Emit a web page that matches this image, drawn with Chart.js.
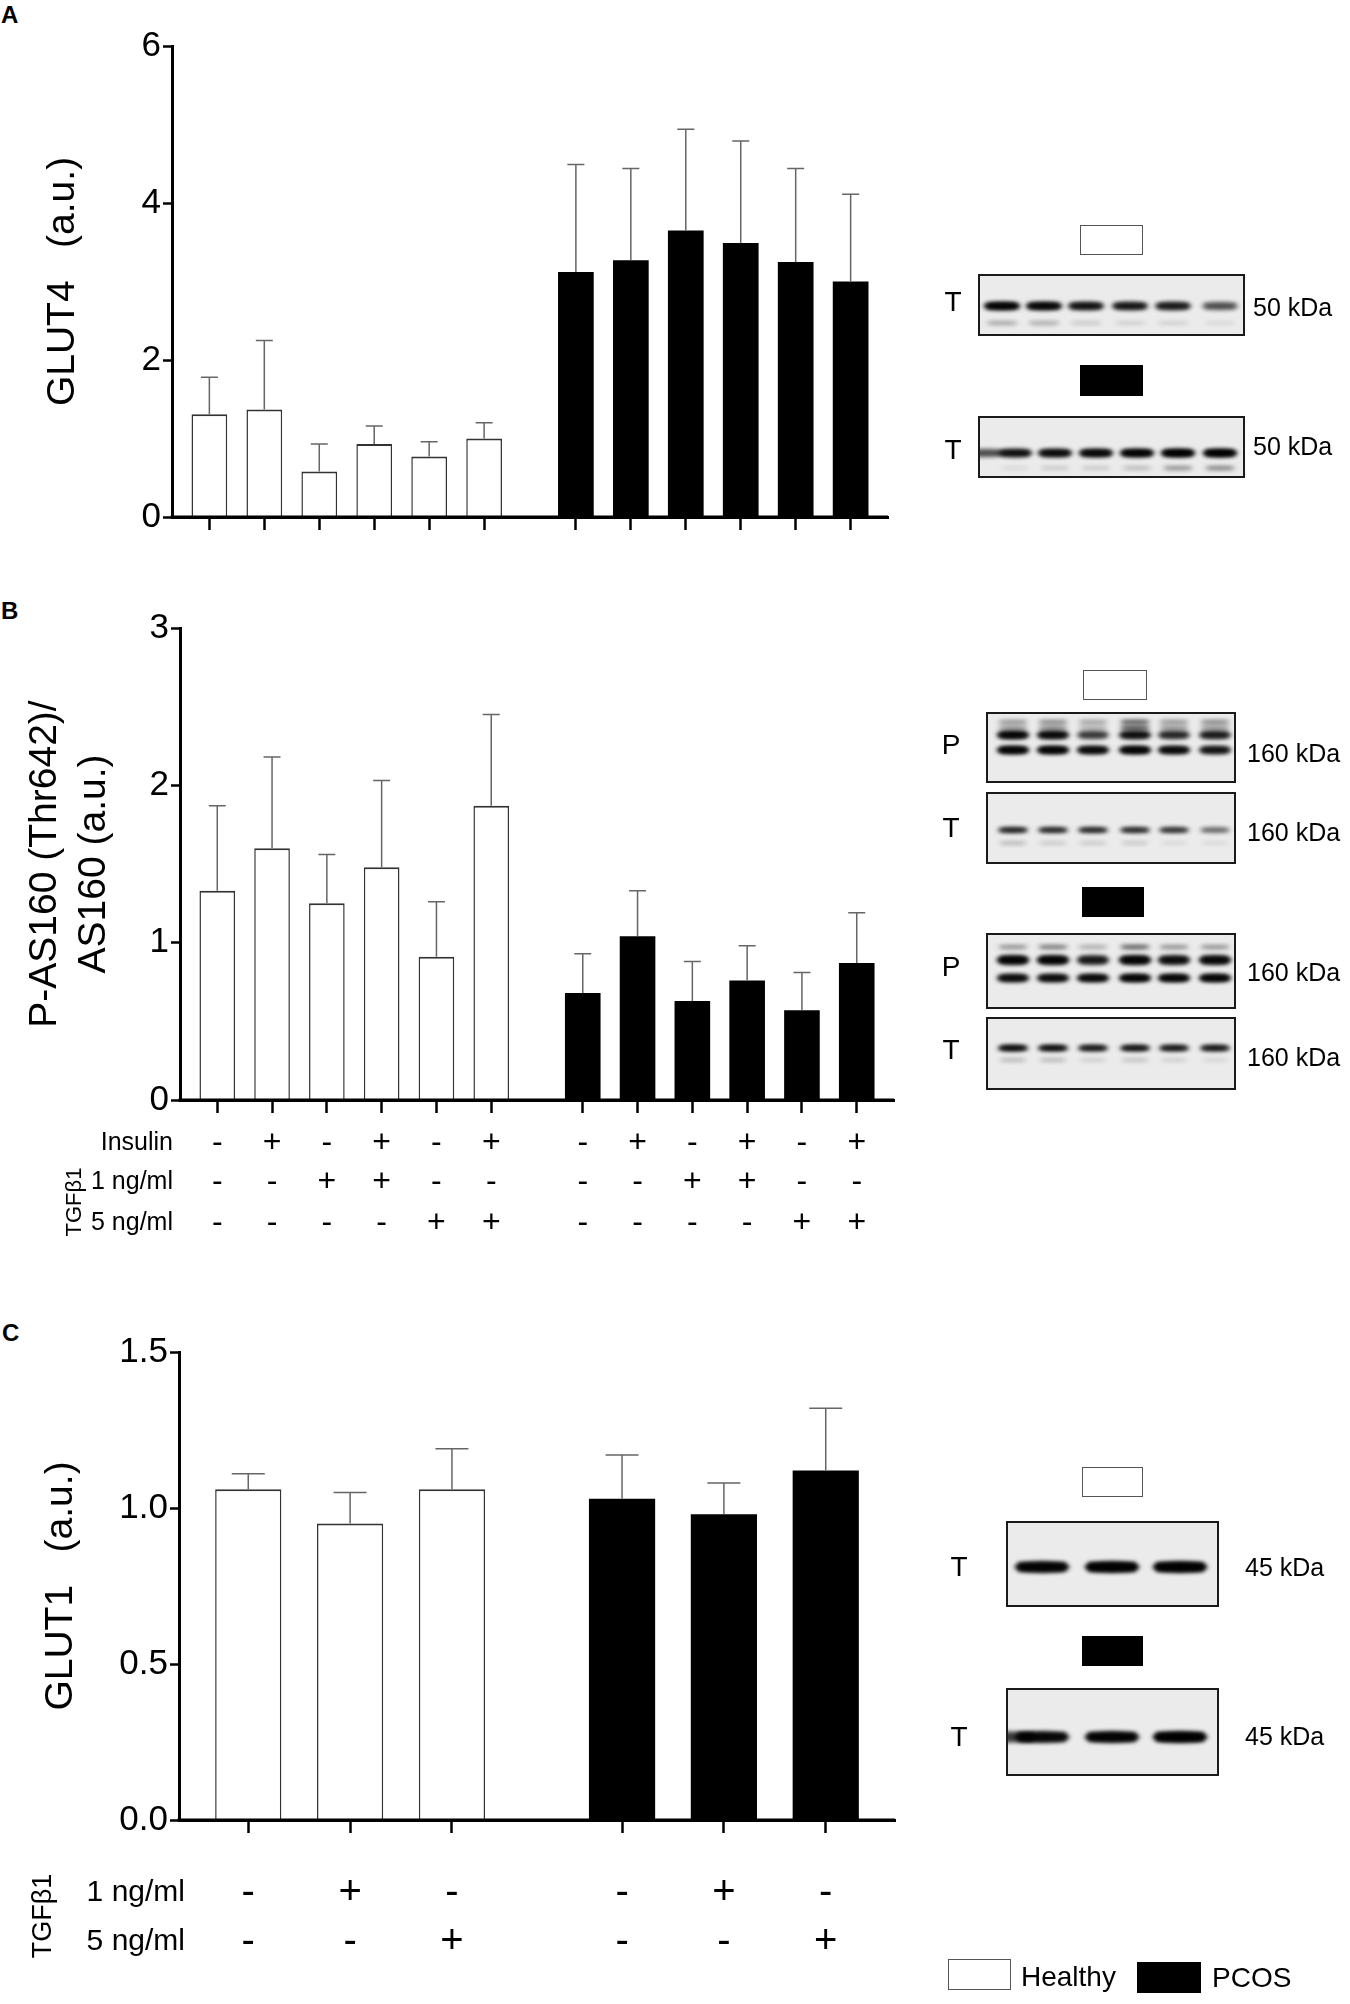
<!DOCTYPE html>
<html lang="en">
<head>
<meta charset="UTF-8">
<title>GLUT4, P-AS160/AS160 and GLUT1 in healthy and PCOS cells</title>
<style>
  html, body { margin: 0; padding: 0; background: #fff; }
  body { width: 1350px; height: 2004px; position: relative; overflow: hidden;
         font-family: Arial, "Liberation Sans", Helvetica, sans-serif; color: #000; }
  .box { position: absolute; }
  .letter { position: absolute; font-weight: bold; font-size: 24px; line-height: 1; }
  .lbl { position: absolute; line-height: 1; white-space: nowrap; transform: translateY(-50%); }
  .lane { font-size: 28px; transform: translate(-50%, -50%); }
  .kda { font-size: 25px; }
  .key { position: absolute; box-sizing: border-box; }
  .key.white { background: #fff; border: 1.5px solid #555; }
  .key.black { background: #000; }
  .legend-text { font-size: 28px; }
</style>
</head>
<body>

<div class="letter" style="left:1px;top:3px">A</div>
<div class="letter" style="left:1px;top:599px">B</div>
<div class="letter" style="left:2px;top:1321px">C</div>

<div class="box" style="left:0;top:0;width:900px;height:545px"><canvas id="chartA"></canvas></div>
<div class="box" style="left:0;top:580px;width:900px;height:680px"><canvas id="chartB"></canvas></div>
<div class="box" style="left:0;top:1300px;width:900px;height:704px"><canvas id="chartC"></canvas></div>

<canvas id="blots" width="450" height="2004" style="position:absolute;left:900px;top:0"></canvas>

<!-- blot group keys -->
<div class="key white" style="left:1080px;top:225px;width:63px;height:30px"></div>
<div class="key black" style="left:1080px;top:365px;width:63px;height:31px"></div>
<div class="key white" style="left:1083px;top:670px;width:64px;height:30px"></div>
<div class="key black" style="left:1082px;top:887px;width:62px;height:30px"></div>
<div class="key white" style="left:1082px;top:1467px;width:61px;height:30px"></div>
<div class="key black" style="left:1082px;top:1636px;width:61px;height:30px"></div>

<!-- blot labels -->
<div class="lbl lane" style="left:953px;top:302px">T</div>
<div class="lbl lane" style="left:953px;top:450px">T</div>
<div class="lbl kda" style="left:1253px;top:307px">50 kDa</div>
<div class="lbl kda" style="left:1253px;top:446px">50 kDa</div>

<div class="lbl lane" style="left:951px;top:745px">P</div>
<div class="lbl lane" style="left:951px;top:828px">T</div>
<div class="lbl lane" style="left:951px;top:967px">P</div>
<div class="lbl lane" style="left:951px;top:1050px">T</div>
<div class="lbl kda" style="left:1247px;top:753px">160 kDa</div>
<div class="lbl kda" style="left:1247px;top:832px">160 kDa</div>
<div class="lbl kda" style="left:1247px;top:972px">160 kDa</div>
<div class="lbl kda" style="left:1247px;top:1057px">160 kDa</div>

<div class="lbl lane" style="left:959px;top:1567px">T</div>
<div class="lbl lane" style="left:959px;top:1737px">T</div>
<div class="lbl kda" style="left:1245px;top:1567px">45 kDa</div>
<div class="lbl kda" style="left:1245px;top:1736px">45 kDa</div>

<!-- legend -->
<div class="key white" style="left:948px;top:1959px;width:63px;height:31px"></div>
<div class="lbl legend-text" style="left:1021px;top:1977px">Healthy</div>
<div class="key black" style="left:1137px;top:1962px;width:64px;height:31px"></div>
<div class="lbl legend-text" style="left:1212px;top:1978px">PCOS</div>

<script src="https://cdn.jsdelivr.net/npm/chart.js@4.4.1/dist/chart.umd.js"></script>
<script>
// ---- values (mean and SEM, a.u.) ----
const glut4Healthy    = [1.31, 1.37, 0.58, 0.93, 0.77, 1.00];
const glut4HealthySem = [0.47, 0.88, 0.35, 0.23, 0.19, 0.20];
const glut4Pcos       = [3.12, 3.27, 3.65, 3.49, 3.25, 3.00];
const glut4PcosSem    = [1.37, 1.17, 1.29, 1.30, 1.19, 1.11];
const glut4Ticks      = [0, 2, 4, 6];

const as160Healthy    = [1.33, 1.60, 1.25, 1.48, 0.91, 1.87];
const as160HealthySem = [0.54, 0.58, 0.31, 0.55, 0.35, 0.58];
const as160Pcos       = [0.68, 1.04, 0.63, 0.76, 0.57, 0.87];
const as160PcosSem    = [0.25, 0.29, 0.25, 0.22, 0.24, 0.32];
const as160Ticks      = [0, 1, 2, 3];

const glut1Healthy    = [1.06, 0.95, 1.06];
const glut1HealthySem = [0.05, 0.10, 0.13];
const glut1Pcos       = [1.03, 0.98, 1.12];
const glut1PcosSem    = [0.14, 0.10, 0.20];
const glut1Ticks      = [0, 0.5, 1.0, 1.5];

// treatment rows (same pattern in both groups)
const insulinB = ['-', '+', '-', '+', '-', '+'];
const tgf1B    = ['-', '-', '+', '+', '-', '-'];
const tgf5B    = ['-', '-', '-', '-', '+', '+'];
const tgf1C    = ['-', '+', '-'];
const tgf5C    = ['-', '-', '+'];

const FONT = 'Arial, "Liberation Sans", Helvetica, sans-serif';
const GROUP_GAP = 1.67;   // distance between last healthy and first PCOS bar
const EDGE = 0.68;        // axis overhang at both ends, in bar spacings

Chart.defaults.font.family = FONT;
Chart.defaults.color = '#000';

// upper error bars + axis line redrawn over the bar bases
const errorBars = {
  id: 'errorBars',
  afterDatasetsDraw(chart, args, opts) {
    const { ctx, chartArea } = chart;
    const y = chart.scales.y;
    ctx.save();
    ctx.strokeStyle = '#666';
    ctx.lineWidth = 1.5;
    chart.data.datasets.forEach((ds, i) => {
      chart.getDatasetMeta(i).data.forEach((bar, j) => {
        const top = y.getPixelForValue(ds.data[j].y + ds.sem[j]);
        ctx.beginPath();
        ctx.moveTo(bar.x, bar.y);
        ctx.lineTo(bar.x, top);
        ctx.moveTo(bar.x - opts.cap / 2, top);
        ctx.lineTo(bar.x + opts.cap / 2, top);
        ctx.stroke();
      });
    });
    ctx.strokeStyle = '#000';
    ctx.lineWidth = 3;
    ctx.beginPath();
    ctx.moveTo(chartArea.left - 1.5, chartArea.bottom);
    ctx.lineTo(chartArea.right, chartArea.bottom);
    ctx.stroke();
    ctx.restore();
  }
};

// +/- treatment table under the x axis
const conditionRows = {
  id: 'conditionRows',
  afterDraw(chart, args, opts) {
    if (!opts.rows || !opts.rows.length) return;
    const { ctx, chartArea } = chart;
    const x = chart.scales.x;
    ctx.save();
    ctx.fillStyle = '#000';
    ctx.textBaseline = 'middle';
    opts.rows.forEach(row => {
      const yy = chartArea.bottom + row.offset;
      ctx.font = opts.labelSize + 'px ' + FONT;
      ctx.textAlign = 'right';
      ctx.fillText(row.label, opts.labelRight, yy);
      ctx.font = opts.signSize + 'px ' + FONT;
      ctx.textAlign = 'center';
      row.signs.forEach((s, i) => {
        ctx.fillText(s, x.getPixelForValue(x.ticks[i].value), yy);
      });
    });
    ctx.translate(opts.groupX, chartArea.bottom + opts.groupOffset);
    ctx.rotate(-Math.PI / 2);
    ctx.font = opts.groupSize + 'px ' + FONT;
    ctx.fillText('TGFβ1', 0, 0);
    ctx.restore();
  }
};

function buildPanel(id, cfg) {
  const n = cfg.healthy.length;
  const posH = cfg.healthy.map((v, i) => i);
  const posP = cfg.pcos.map((v, i) => n - 1 + GROUP_GAP + i);
  const allPos = posH.concat(posP);
  return new Chart(document.getElementById(id), {
    type: 'bar',
    data: {
      datasets: [
        {
          label: 'Healthy',
          data: cfg.healthy.map((v, i) => ({ x: posH[i], y: v })),
          sem: cfg.healthySem,
          backgroundColor: '#fff',
          borderColor: '#333',
          borderWidth: { top: 2, left: 1.5, right: 1.5, bottom: 0 }
        },
        {
          label: 'PCOS',
          data: cfg.pcos.map((v, i) => ({ x: posP[i], y: v })),
          sem: cfg.pcosSem,
          backgroundColor: '#000',
          borderWidth: 0
        }
      ]
    },
    options: {
      responsive: true,
      maintainAspectRatio: false,
      animation: false,
      layout: { padding: cfg.padding },
      datasets: { bar: { grouped: false, categoryPercentage: 1, barPercentage: 0.65 } },
      plugins: {
        legend: { display: false },
        tooltip: { enabled: false },
        errorBars: { cap: cfg.cap },
        conditionRows: cfg.rows
      },
      scales: {
        x: {
          type: 'linear',
          min: -EDGE,
          max: allPos[allPos.length - 1] + EDGE,
          offset: false,
          afterBuildTicks: s => { s.ticks = allPos.map(v => ({ value: v })); },
          afterFit: s => { s.height = 14; },
          ticks: { display: false, autoSkip: false },
          grid: { display: true, drawOnChartArea: false, drawTicks: true, offset: false,
                  tickLength: 13, tickWidth: 2.5, tickColor: '#000' },
          border: { display: true, width: 3, color: '#000' }
        },
        y: {
          min: 0,
          max: cfg.ticks[cfg.ticks.length - 1],
          afterBuildTicks: s => { s.ticks = cfg.ticks.map(v => ({ value: v })); },
          afterFit: s => { s.width = cfg.axisLeft; },
          ticks: { font: { size: 35 }, color: '#000', padding: 2, autoSkip: false,
                   callback: v => cfg.fmt(v) },
          grid: { drawOnChartArea: false, tickLength: 9, tickWidth: 2.5, tickColor: '#000' },
          border: { display: true, width: 3, color: '#000' },
          title: { display: true, text: cfg.title, color: '#000',
                   font: { size: 39, lineHeight: cfg.titleLh },
                   padding: { top: cfg.titlePad, bottom: 0 } }
        }
      }
    },
    plugins: [errorBars, conditionRows]
  });
}

buildPanel('chartA', {
  healthy: glut4Healthy, healthySem: glut4HealthySem,
  pcos: glut4Pcos, pcosSem: glut4PcosSem,
  ticks: glut4Ticks, fmt: v => String(v),
  title: 'GLUT4   (a.u.)', titleLh: 1.2, titlePad: 40,
  axisLeft: 172, cap: 17,
  padding: { top: 46, right: 12, bottom: 14, left: 0 },
  rows: { rows: [] }
});

buildPanel('chartB', {
  healthy: as160Healthy, healthySem: as160HealthySem,
  pcos: as160Pcos, pcosSem: as160PcosSem,
  ticks: as160Ticks, fmt: v => String(v),
  title: ['P-AS160 (Thr642)/', 'AS160 (a.u.)'], titleLh: 1.256, titlePad: 21,
  axisLeft: 180, cap: 17,
  padding: { top: 48, right: 6, bottom: 146, left: 0 },
  rows: {
    labelRight: 173, labelSize: 25, signSize: 32,
    groupX: 75, groupOffset: 102, groupSize: 22,
    rows: [
      { label: 'Insulin', offset: 43, signs: insulinB.concat(insulinB) },
      { label: '1 ng/ml', offset: 82, signs: tgf1B.concat(tgf1B) },
      { label: '5 ng/ml', offset: 123, signs: tgf5B.concat(tgf5B) }
    ]
  }
});

buildPanel('chartC', {
  healthy: glut1Healthy, healthySem: glut1HealthySem,
  pcos: glut1Pcos, pcosSem: glut1PcosSem,
  ticks: glut1Ticks, fmt: v => v.toFixed(1),
  title: 'GLUT1   (a.u.)', titleLh: 1.2, titlePad: 38,
  axisLeft: 179, cap: 33,
  padding: { top: 52, right: 5, bottom: 170, left: 0 },
  rows: {
    labelRight: 185, labelSize: 30, signSize: 40,
    groupX: 44, groupOffset: 96, groupSize: 27,
    rows: [
      { label: '1 ng/ml', offset: 73, signs: tgf1C.concat(tgf1C) },
      { label: '5 ng/ml', offset: 122, signs: tgf5C.concat(tgf5C) }
    ]
  }
});

// ---- western blot strips (page coordinates) ----
const blots = [
  { x: 979, y: 275, w: 265, h: 60, lanes: [1002, 1044, 1086, 1130, 1173, 1220],
    bands: [{ dy: 31, h: 8, w: 38, a: [0.95, 0.9, 0.78, 0.75, 0.72, 0.45] },
            { dy: 48, h: 4, w: 34, a: [0.22, 0.2, 0.1, 0.08, 0.08, 0.05] }] },
  { x: 979, y: 417, w: 265, h: 60, lanes: [986, 1015, 1055, 1096, 1137, 1178, 1220],
    bands: [{ dy: 36, h: 8, w: 36, a: [0.45, 0.8, 0.85, 0.9, 0.95, 1, 1] },
            { dy: 51, h: 4, w: 32, a: [0, 0.05, 0.1, 0.1, 0.15, 0.3, 0.35] }] },
  { x: 987, y: 713, w: 248, h: 69, lanes: [1013, 1053, 1093, 1135, 1174, 1215],
    bands: [{ dy: 9, h: 4, w: 32, a: [0.3, 0.35, 0.25, 0.55, 0.3, 0.35] },
            { dy: 15, h: 4, w: 32, a: [0.3, 0.35, 0.2, 0.6, 0.3, 0.3] },
            { dy: 22, h: 8, w: 34, a: [0.92, 0.88, 0.55, 0.82, 0.65, 0.72] },
            { dy: 37, h: 8, w: 34, a: [0.95, 0.95, 0.88, 0.95, 0.88, 0.78] }] },
  { x: 987, y: 793, w: 248, h: 70, lanes: [1013, 1053, 1093, 1135, 1174, 1215],
    bands: [{ dy: 37, h: 5, w: 32, a: [0.85, 0.82, 0.82, 0.8, 0.75, 0.45] },
            { dy: 50, h: 4, w: 30, a: [0.15, 0.1, 0.1, 0.1, 0.05, 0.05] }] },
  { x: 987, y: 934, w: 248, h: 74, lanes: [1013, 1053, 1093, 1135, 1174, 1215],
    bands: [{ dy: 13, h: 4, w: 32, a: [0.3, 0.4, 0.2, 0.5, 0.3, 0.3] },
            { dy: 26, h: 9, w: 34, a: [0.92, 0.92, 0.72, 0.92, 0.82, 0.88] },
            { dy: 44, h: 8, w: 34, a: [0.85, 0.85, 0.88, 0.92, 0.92, 0.92] }] },
  { x: 987, y: 1018, w: 248, h: 71, lanes: [1013, 1053, 1093, 1135, 1174, 1215],
    bands: [{ dy: 30, h: 6, w: 32, a: [0.92, 0.9, 0.82, 0.85, 0.82, 0.82] },
            { dy: 42, h: 4, w: 30, a: [0.15, 0.15, 0.08, 0.12, 0.08, 0.06] }] },
  { x: 1007, y: 1522, w: 211, h: 84, lanes: [1042, 1112, 1180],
    bands: [{ dy: 45, h: 11, w: 56, a: [0.9, 0.95, 0.95] }] },
  { x: 1007, y: 1689, w: 211, h: 86, lanes: [1009, 1042, 1112, 1180],
    bands: [{ dy: 48, h: 11, w: 56, a: [0.5, 0.85, 0.9, 0.97] }] }
];

const bctx = document.getElementById('blots').getContext('2d');
bctx.translate(-900, 0);
blots.forEach(b => {
  bctx.save();
  bctx.beginPath();
  bctx.rect(b.x, b.y, b.w, b.h);
  bctx.clip();
  bctx.fillStyle = '#ebebeb';
  bctx.fillRect(b.x, b.y, b.w, b.h);
  b.bands.forEach(band => {
    b.lanes.forEach((lx, i) => {
      if (!band.a[i]) return;
      bctx.save();
      bctx.filter = 'blur(2px)';
      bctx.fillStyle = 'rgba(0,0,0,' + band.a[i] + ')';
      bctx.beginPath();
      bctx.ellipse(lx, b.y + band.dy, band.w / 2, band.h / 2, 0, 0, Math.PI * 2);
      bctx.fill();
      bctx.fillRect(lx - band.w / 2 + 4, b.y + band.dy - band.h / 2 + 1, band.w - 8, band.h - 2);
      bctx.restore();
    });
  });
  bctx.restore();
  bctx.strokeStyle = '#1a1a1a';
  bctx.lineWidth = 2;
  bctx.strokeRect(b.x, b.y, b.w, b.h);
});
</script>
</body>
</html>
